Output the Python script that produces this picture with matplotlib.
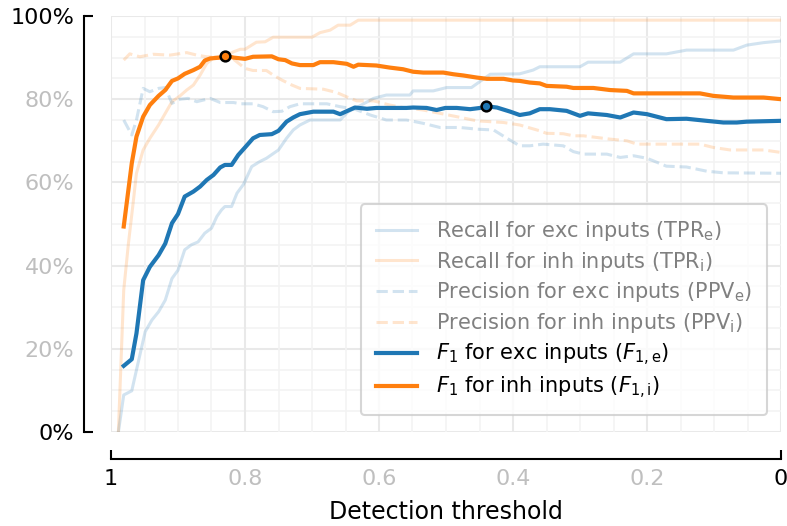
import matplotlib.pyplot as plt
import numpy as np

# Detection thresholds and scores, per curve
thr_tpr_exc = [0.989, 0.981, 0.969, 0.962, 0.949, 0.939, 0.929, 0.919, 0.909, 0.900,
               0.890, 0.880, 0.870, 0.860, 0.850, 0.842, 0.835, 0.830, 0.820, 0.812,
               0.802, 0.790, 0.778, 0.768, 0.750, 0.738, 0.728, 0.718, 0.703, 0.658,
               0.646, 0.631, 0.608, 0.589, 0.554, 0.549, 0.519, 0.499, 0.462, 0.434,
               0.390, 0.370, 0.360, 0.300, 0.288, 0.240, 0.220, 0.171, 0.141, 0.071,
               0.051, 0.026, 0.000]
tpr_exc = [0.000, 0.089, 0.099, 0.149, 0.241, 0.269, 0.289, 0.317, 0.369, 0.389,
           0.438, 0.450, 0.457, 0.478, 0.490, 0.518, 0.534, 0.542, 0.542, 0.574,
           0.596, 0.638, 0.650, 0.658, 0.678, 0.706, 0.726, 0.738, 0.750, 0.750,
           0.770, 0.782, 0.802, 0.810, 0.810, 0.820, 0.820, 0.828, 0.828, 0.860,
           0.861, 0.870, 0.878, 0.878, 0.889, 0.889, 0.909, 0.909, 0.918, 0.918,
           0.930, 0.936, 0.940]

thr_tpr_inh = [0.989, 0.984, 0.981, 0.974, 0.967, 0.962, 0.952, 0.942, 0.929, 0.919,
               0.909, 0.897, 0.887, 0.877, 0.867, 0.857, 0.845, 0.830, 0.817, 0.807,
               0.800, 0.783, 0.770, 0.758, 0.700, 0.688, 0.673, 0.661, 0.643, 0.631,
               0.000]
tpr_inh = [0.000, 0.213, 0.341, 0.453, 0.550, 0.622, 0.678, 0.706, 0.738, 0.766,
           0.794, 0.808, 0.822, 0.834, 0.858, 0.886, 0.902, 0.904, 0.914, 0.920,
           0.920, 0.937, 0.938, 0.949, 0.949, 0.960, 0.966, 0.978, 0.978, 0.990,
           0.990]

thr_ppv_exc = [0.981, 0.969, 0.962, 0.952, 0.942, 0.929, 0.919, 0.909, 0.897, 0.885,
               0.872, 0.852, 0.837, 0.817, 0.807, 0.788, 0.773, 0.758, 0.745, 0.733,
               0.718, 0.678, 0.658, 0.636, 0.613, 0.589, 0.559, 0.534, 0.509, 0.479,
               0.454, 0.429, 0.409, 0.390, 0.375, 0.355, 0.325, 0.310, 0.295, 0.260,
               0.240, 0.220, 0.200, 0.171, 0.141, 0.111, 0.086, 0.000]
ppv_exc = [0.750, 0.714, 0.750, 0.826, 0.818, 0.826, 0.828, 0.790, 0.800, 0.802,
           0.794, 0.802, 0.792, 0.792, 0.789, 0.789, 0.782, 0.770, 0.771, 0.782,
           0.789, 0.789, 0.782, 0.776, 0.762, 0.750, 0.750, 0.742, 0.732, 0.732,
           0.728, 0.726, 0.706, 0.688, 0.688, 0.692, 0.688, 0.674, 0.668, 0.668,
           0.660, 0.664, 0.658, 0.639, 0.637, 0.627, 0.623, 0.622]

thr_ppv_inh = [0.981, 0.972, 0.957, 0.937, 0.912, 0.887, 0.872, 0.857, 0.837, 0.817,
               0.800, 0.788, 0.768, 0.758, 0.745, 0.730, 0.718, 0.683, 0.663, 0.643,
               0.633, 0.608, 0.584, 0.564, 0.534, 0.509, 0.484, 0.454, 0.414, 0.390,
               0.360, 0.350, 0.325, 0.310, 0.295, 0.255, 0.230, 0.215, 0.121, 0.101,
               0.076, 0.026, 0.000]
ppv_inh = [0.894, 0.909, 0.902, 0.908, 0.906, 0.912, 0.906, 0.902, 0.900, 0.896,
           0.874, 0.869, 0.869, 0.858, 0.846, 0.834, 0.826, 0.824, 0.816, 0.802,
           0.796, 0.796, 0.786, 0.780, 0.774, 0.766, 0.758, 0.748, 0.744, 0.738,
           0.724, 0.718, 0.717, 0.712, 0.712, 0.704, 0.700, 0.692, 0.692, 0.684,
           0.678, 0.678, 0.672]

thr_f1_exc = [0.981, 0.969, 0.962, 0.952, 0.942, 0.929, 0.919, 0.909, 0.900, 0.890,
              0.877, 0.867, 0.857, 0.847, 0.837, 0.830, 0.820, 0.810, 0.800, 0.788,
              0.778, 0.760, 0.750, 0.738, 0.728, 0.718, 0.698, 0.668, 0.658, 0.636,
              0.618, 0.604, 0.559, 0.549, 0.529, 0.514, 0.501, 0.484, 0.464, 0.449,
              0.440, 0.424, 0.404, 0.390, 0.375, 0.360, 0.345, 0.320, 0.300, 0.288,
              0.260, 0.240, 0.220, 0.200, 0.171, 0.141, 0.111, 0.086, 0.066, 0.051,
              0.000]
f1_exc = [0.159, 0.175, 0.237, 0.365, 0.397, 0.425, 0.453, 0.502, 0.524, 0.566,
          0.578, 0.590, 0.606, 0.618, 0.636, 0.642, 0.642, 0.666, 0.684, 0.706,
          0.714, 0.716, 0.724, 0.746, 0.756, 0.764, 0.770, 0.770, 0.764, 0.780,
          0.777, 0.779, 0.779, 0.780, 0.779, 0.774, 0.779, 0.779, 0.776, 0.779,
          0.783, 0.780, 0.770, 0.762, 0.766, 0.776, 0.776, 0.772, 0.760, 0.766,
          0.762, 0.756, 0.768, 0.764, 0.752, 0.753, 0.748, 0.744, 0.744, 0.746,
          0.748]

thr_f1_inh = [0.981, 0.969, 0.962, 0.952, 0.942, 0.929, 0.919, 0.909, 0.900, 0.890,
              0.877, 0.867, 0.860, 0.852, 0.837, 0.830, 0.817, 0.800, 0.788, 0.760,
              0.750, 0.740, 0.730, 0.718, 0.698, 0.688, 0.668, 0.648, 0.638, 0.631,
              0.604, 0.584, 0.564, 0.549, 0.534, 0.504, 0.489, 0.474, 0.454, 0.439,
              0.414, 0.400, 0.390, 0.375, 0.360, 0.350, 0.320, 0.310, 0.280, 0.255,
              0.230, 0.220, 0.176, 0.121, 0.101, 0.071, 0.026, 0.000]
f1_inh = [0.494, 0.646, 0.710, 0.758, 0.786, 0.808, 0.822, 0.844, 0.850, 0.861,
          0.870, 0.878, 0.893, 0.898, 0.900, 0.905, 0.900, 0.897, 0.902, 0.903,
          0.896, 0.894, 0.886, 0.882, 0.882, 0.889, 0.889, 0.885, 0.878, 0.883,
          0.881, 0.876, 0.872, 0.866, 0.864, 0.864, 0.860, 0.857, 0.852, 0.849,
          0.849, 0.845, 0.844, 0.840, 0.838, 0.832, 0.830, 0.827, 0.827, 0.822,
          0.820, 0.814, 0.814, 0.814, 0.808, 0.804, 0.804, 0.800]

blue = '#1f77b4'
orange = '#ff7f0e'

fig = plt.figure(figsize=(7.87, 5.26), dpi=100)
ax = fig.add_axes([111 / 787, 94 / 526, 670 / 787, 416 / 526])

# fine grid every 0.05, slightly darker every 0.2
for v in np.arange(0, 1.0001, 0.05):
    major = abs(v * 5 - round(v * 5)) < 1e-6
    c = '#e9e9e9' if major else '#f3f3f3'
    lw = 1.5 if major else 1.2
    ax.axvline(v, color=c, lw=lw, zorder=0)
    ax.axhline(v, color=c, lw=lw, zorder=0)

ax.plot(thr_tpr_exc, tpr_exc, color=blue, alpha=0.2, lw=2.2,
        label='Recall for exc inputs (TPR$_\\mathrm{e}$)')
ax.plot(thr_tpr_inh, tpr_inh, color=orange, alpha=0.2, lw=2.2,
        label='Recall for inh inputs (TPR$_\\mathrm{i}$)')
ax.plot(thr_ppv_exc, ppv_exc, color=blue, alpha=0.2, lw=2.2, ls='--',
        label='Precision for exc inputs (PPV$_\\mathrm{e}$)')
ax.plot(thr_ppv_inh, ppv_inh, color=orange, alpha=0.2, lw=2.2, ls='--',
        label='Precision for inh inputs (PPV$_\\mathrm{i}$)')
ax.plot(thr_f1_exc, f1_exc, color=blue, lw=3,
        label='$F_1$ for exc inputs ($F_{1,\\mathrm{e}}$)')
ax.plot(thr_f1_inh, f1_inh, color=orange, lw=3,
        label='$F_1$ for inh inputs ($F_{1,\\mathrm{i}}$)')

# best F1 for each population
for xs, ys, c in [(thr_f1_exc, f1_exc, blue), (thr_f1_inh, f1_inh, orange)]:
    i = int(np.argmax(ys))
    ax.plot(xs[i], ys[i], 'o', mfc=c, mec='black', mew=1.8, ms=7, zorder=5)

ax.set_xlim(1, 0)
ax.set_ylim(0, 1)

ax.set_xticks([1, 0], labels=['1', '0'])
ax.set_xticks([0.8, 0.6, 0.4, 0.2], labels=['0.8', '0.6', '0.4', '0.2'], minor=True)
ax.set_yticks([0, 1], labels=['0%', '100%'])
ax.set_yticks([0.2, 0.4, 0.6, 0.8], labels=['20%', '40%', '60%', '80%'], minor=True)
ax.tick_params(which='major', direction='in', length=6.5, width=1.5,
               labelsize=16, pad=7, color='black', labelcolor='black')
ax.tick_params(which='minor', length=0, labelsize=16, pad=7, labelcolor='#bfbfbf')

for s in ['top', 'right']:
    ax.spines[s].set_visible(False)
for s in ['left', 'bottom']:
    ax.spines[s].set_position(('outward', 19.5))
    ax.spines[s].set_linewidth(1.5)

ax.set_xlabel('Detection threshold', fontsize=17, labelpad=8)

leg = ax.legend(loc='lower right', bbox_to_anchor=(0.979, 0.04), borderaxespad=0,
                fontsize=15, edgecolor='#cccccc', fancybox=True,
                labelspacing=0.32, borderpad=0.7, handletextpad=0.9)
leg.get_frame().set_linewidth(1.5)
for t in leg.get_texts()[:4]:
    t.set_color('#808080')

fig.savefig('out.png', dpi=100)
